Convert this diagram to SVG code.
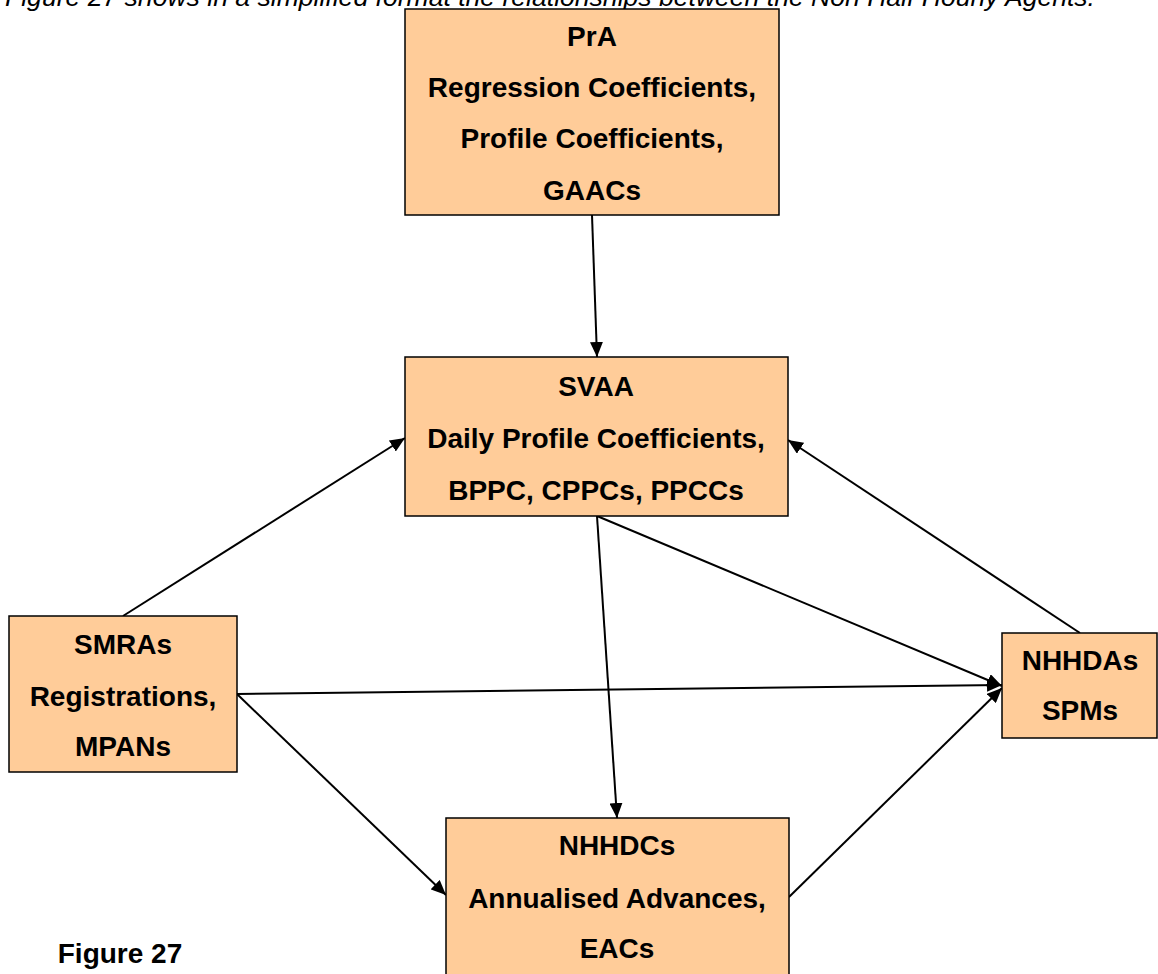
<svg xmlns="http://www.w3.org/2000/svg" width="1158" height="974" viewBox="0 0 1158 974">
<style>
.box{fill:#FFCC99;stroke:#000;stroke-width:1.5}
.t{font-family:"Liberation Sans",Arial,sans-serif;font-weight:bold;font-size:28px;fill:#000;text-anchor:middle}
.cap{font-family:"Liberation Sans",Arial,sans-serif;font-style:italic;font-size:25px;fill:#000}
.c{stroke:#000;stroke-width:2;fill:none;marker-end:url(#ah)}
</style>
<defs>
<marker id="ah" markerUnits="userSpaceOnUse" markerWidth="15" markerHeight="13" refX="15" refY="6.5" orient="auto">
<path d="M0,0 L15,6.5 L0,13 z" fill="#000"/>
</marker>
</defs>
<rect width="1158" height="974" fill="#fff"/>
<text class="cap" x="5" y="6" textLength="1090" lengthAdjust="spacingAndGlyphs">Figure 27 shows in a simplified format the relationships between the Non Half Hourly Agents.</text>
<g id="connectors">
<line class="c" x1="592" y1="215" x2="597" y2="357"/>
<line class="c" x1="123" y1="616" x2="405" y2="438"/>
<line class="c" x1="1080" y1="633" x2="788" y2="440"/>
<line class="c" x1="597" y1="516" x2="617" y2="818"/>
<line class="c" x1="597" y1="516" x2="1002" y2="686"/>
<line class="c" x1="237" y1="694" x2="1002" y2="685"/>
<line class="c" x1="237" y1="694" x2="446" y2="895"/>
<line class="c" x1="789" y1="897" x2="1002" y2="688"/>
</g>
<g id="PrA">
<rect class="box" x="405" y="9" width="374" height="206"/>
<text class="t" x="592" y="46">PrA</text>
<text class="t" x="592" y="97">Regression Coefficients,</text>
<text class="t" x="592" y="148">Profile Coefficients,</text>
<text class="t" x="592" y="200">GAACs</text>
</g>
<g id="SVAA">
<rect class="box" x="405" y="357" width="383" height="159"/>
<text class="t" x="596" y="396">SVAA</text>
<text class="t" x="596" y="448">Daily Profile Coefficients,</text>
<text class="t" x="596" y="500">BPPC, CPPCs, PPCCs</text>
</g>
<g id="SMRAs">
<rect class="box" x="9" y="616" width="228" height="156"/>
<text class="t" x="123" y="654">SMRAs</text>
<text class="t" x="123" y="706">Registrations,</text>
<text class="t" x="123" y="756">MPANs</text>
</g>
<g id="NHHDAs">
<rect class="box" x="1002" y="633" width="155" height="105"/>
<text class="t" x="1080" y="670">NHHDAs</text>
<text class="t" x="1080" y="720">SPMs</text>
</g>
<g id="NHHDCs">
<rect class="box" x="446" y="818" width="343" height="180"/>
<text class="t" x="617" y="855">NHHDCs</text>
<text class="t" x="617" y="908">Annualised Advances,</text>
<text class="t" x="617" y="958">EACs</text>
</g>
<text class="t" x="120" y="963">Figure 27</text>
</svg>
